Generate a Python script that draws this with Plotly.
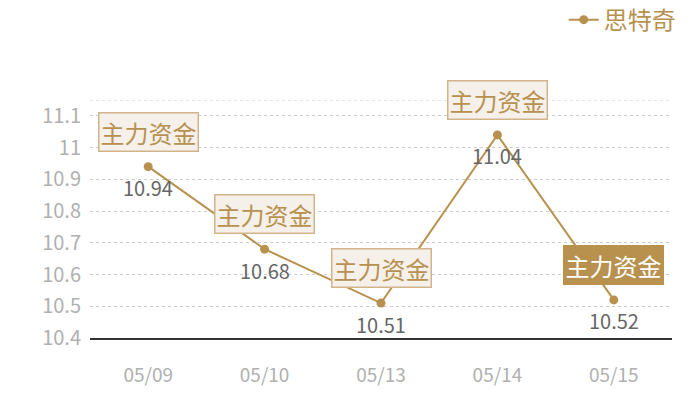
import plotly.graph_objects as go

dates = ["05/09", "05/10", "05/13", "05/14", "05/15"]
prices = [10.94, 10.68, 10.51, 11.04, 10.52]
tag_text = "主力资金"
highlight = [False, False, False, False, True]

gold = "#b8914f"
font_cjk = "Noto Sans CJK SC"

fig = go.Figure()
fig.add_trace(go.Scatter(
    name="思特奇", x=dates, y=prices, mode="lines+markers",
    line=dict(color=gold, width=2), marker=dict(color=gold, size=9),
))

for d, p, h in zip(dates, prices, highlight):
    # value label under the point
    fig.add_annotation(
        x=d, y=p, text=f"{p:.2f}", showarrow=False, yshift=-21,
        font=dict(size=20, color="#666666", family=font_cjk),
    )
    # 主力资金 tag above the point
    fig.add_annotation(
        x=d, y=p, text=tag_text, showarrow=False, yshift=35,
        font=dict(size=24, color="#ffffff" if h else gold, family=font_cjk),
        bgcolor=gold if h else "#f5f0ea",
        bordercolor=gold if h else "#d2b48a", borderwidth=1.5, borderpad=1,
    )

# top dashed border of the grid
fig.add_shape(type="line", xref="paper", yref="y", x0=0, x1=1, y0=11.15, y1=11.15,
              line=dict(color="#cccccc", width=1, dash="dot"))

# margins allow for the 8px body margin of the html page
fig.update_layout(
    width=700, height=400, margin=dict(l=82, r=36, t=92, b=70, autoexpand=False),
    plot_bgcolor="white", paper_bgcolor="white",
    font=dict(family=font_cjk),
    showlegend=True,
    legend=dict(x=1.015, xanchor="right", y=1.336, yanchor="middle", orientation="h",
                font=dict(size=24, color=gold, family=font_cjk), itemwidth=30),
    xaxis=dict(type="category", range=[-0.5, 4.5], showgrid=False, automargin=False,
               showline=True, linecolor="#333333", linewidth=1.5,
               ticks="", tickfont=dict(size=19, color="#b0b0b0"), ticklabelstandoff=19),
    yaxis=dict(range=[10.4, 11.15], dtick=0.1, tick0=10.4, showgrid=True, automargin=False,
               gridcolor="#cccccc", griddash="dot", zeroline=False,
               tickfont=dict(size=20, color="#b0b0b0"), ticklabelstandoff=8),
)

fig.write_html("out.html")
